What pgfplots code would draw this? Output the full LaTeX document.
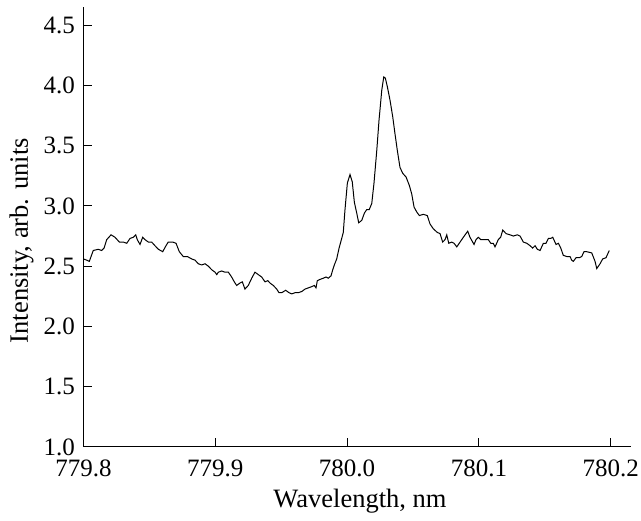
\documentclass[border=0pt]{standalone}
\usepackage{fontspec}
\setmainfont{Liberation Serif}
\usepackage{pgfplots}
\pgfplotsset{compat=1.18}

\begin{document}
\begin{tikzpicture}
\begin{axis}[
    at={(0,0)}, anchor=south west,
    scale only axis, width=547pt, height=440pt,
    xmin=779.8, xmax=780.215, ymin=1.0, ymax=4.65,
    axis x line=bottom, axis y line=left,
    axis line style={-, line width=1pt},
    tick style={black, line width=1pt}, major tick length=9pt, tick align=inside,
    xtick={779.8,779.9,780.0,780.1,780.2},
    xticklabels={779.8,779.9,780.0,780.1,780.2},
    ytick={1.0,1.5,2.0,2.5,3.0,3.5,4.0,4.5},
    yticklabels={1.0,1.5,2.0,2.5,3.0,3.5,4.0,4.5},
    xticklabel style={font=\fontsize{25}{30}\selectfont, anchor=north, inner sep=0pt, yshift=-13pt},
    yticklabel style={font=\fontsize{25}{30}\selectfont, anchor=east, inner sep=0pt, xshift=-8.5pt},
    every axis x label/.style={at={(axis description cs:0.5055,-0.1386)}, anchor=base, font=\fontsize{26.5}{30}\selectfont},
    every axis y label/.style={at={(axis description cs:-0.1015,0.469)}, rotate=90, anchor=base, font=\fontsize{26.5}{30}\selectfont},
    xlabel={Wavelength, nm},
    ylabel={Intensity, arb. units},
]
\addplot[black, line width=1pt, no marks] coordinates {
(779.8000,2.56)(779.8024,2.55)(779.8044,2.54)(779.8074,2.63)(779.8112,2.64)
(779.8138,2.63)(779.8156,2.65)(779.8176,2.72)(779.8209,2.76)(779.8239,2.74)
(779.8272,2.70)(779.8302,2.70)(779.8328,2.69)(779.8353,2.73)(779.8378,2.74)
(779.8396,2.76)(779.8408,2.72)(779.8429,2.68)(779.8449,2.74)(779.8467,2.72)
(779.8492,2.70)(779.8517,2.70)(779.8542,2.67)(779.8568,2.64)(779.8601,2.62)
(779.8626,2.67)(779.8643,2.70)(779.8677,2.70)(779.8702,2.69)(779.8727,2.62)
(779.8757,2.58)(779.8788,2.58)(779.8821,2.56)(779.8846,2.55)(779.8871,2.52)
(779.8897,2.51)(779.8922,2.52)(779.8947,2.50)(779.8973,2.47)(779.8998,2.45)
(779.9011,2.43)(779.9023,2.45)(779.9049,2.46)(779.9074,2.45)(779.9099,2.45)
(779.9124,2.41)(779.9144,2.37)(779.9162,2.34)(779.9187,2.36)(779.9205,2.37)
(779.9225,2.31)(779.9250,2.34)(779.9276,2.40)(779.9301,2.45)(779.9326,2.43)
(779.9352,2.41)(779.9377,2.37)(779.9398,2.38)(779.9415,2.36)(779.9440,2.34)
(779.9466,2.31)(779.9483,2.28)(779.9504,2.28)(779.9534,2.30)(779.9559,2.28)
(779.9580,2.27)(779.9605,2.28)(779.9630,2.28)(779.9656,2.29)(779.9681,2.31)
(779.9706,2.32)(779.9731,2.33)(779.9751,2.34)(779.9764,2.32)(779.9774,2.38)
(779.9794,2.39)(779.9819,2.40)(779.9840,2.41)(779.9857,2.40)(779.9878,2.42)
(779.9891,2.47)(779.9903,2.51)(779.9921,2.56)(779.9939,2.65)(779.9959,2.73)
(779.9971,2.78)(779.9984,2.97)(780.0002,3.19)(780.0022,3.26)(780.0039,3.20)
(780.0055,3.03)(780.0073,2.94)(780.0088,2.86)(780.0111,2.88)(780.0131,2.94)
(780.0149,2.97)(780.0168,2.97)(780.0187,3.02)(780.0204,3.19)(780.0225,3.46)
(780.0242,3.71)(780.0263,3.96)(780.0278,4.07)(780.0290,4.06)(780.0305,3.99)
(780.0325,3.88)(780.0346,3.74)(780.0363,3.60)(780.0381,3.46)(780.0401,3.32)
(780.0422,3.27)(780.0447,3.24)(780.0472,3.17)(780.0490,3.10)(780.0508,2.99)
(780.0528,2.95)(780.0548,2.92)(780.0578,2.93)(780.0608,2.92)(780.0629,2.85)
(780.0654,2.81)(780.0684,2.78)(780.0705,2.77)(780.0725,2.70)(780.0743,2.72)
(780.0756,2.76)(780.0771,2.69)(780.0794,2.70)(780.0811,2.69)(780.0832,2.66)
(780.0857,2.70)(780.0882,2.74)(780.0915,2.79)(780.0932,2.74)(780.0963,2.68)
(780.0978,2.72)(780.0995,2.74)(780.1014,2.72)(780.1046,2.72)(780.1071,2.72)
(780.1090,2.69)(780.1109,2.69)(780.1122,2.66)(780.1147,2.72)(780.1165,2.74)
(780.1181,2.80)(780.1206,2.77)(780.1236,2.76)(780.1261,2.75)(780.1291,2.76)
(780.1312,2.75)(780.1337,2.70)(780.1363,2.69)(780.1388,2.67)(780.1408,2.65)
(780.1426,2.67)(780.1443,2.64)(780.1464,2.63)(780.1489,2.69)(780.1509,2.69)
(780.1527,2.73)(780.1545,2.73)(780.1560,2.74)(780.1585,2.68)(780.1603,2.69)
(780.1621,2.65)(780.1640,2.59)(780.1666,2.58)(780.1691,2.58)(780.1704,2.55)
(780.1716,2.54)(780.1737,2.57)(780.1762,2.57)(780.1780,2.58)(780.1797,2.62)
(780.1818,2.62)(780.1856,2.61)(780.1881,2.54)(780.1894,2.48)(780.1919,2.52)
(780.1939,2.56)(780.1964,2.57)(780.1989,2.63)
};
\end{axis}
\pgfresetboundingbox
\path[use as bounding box] (-83.5pt,-74pt) rectangle (557.5pt,447pt);
\end{tikzpicture}
\end{document}
